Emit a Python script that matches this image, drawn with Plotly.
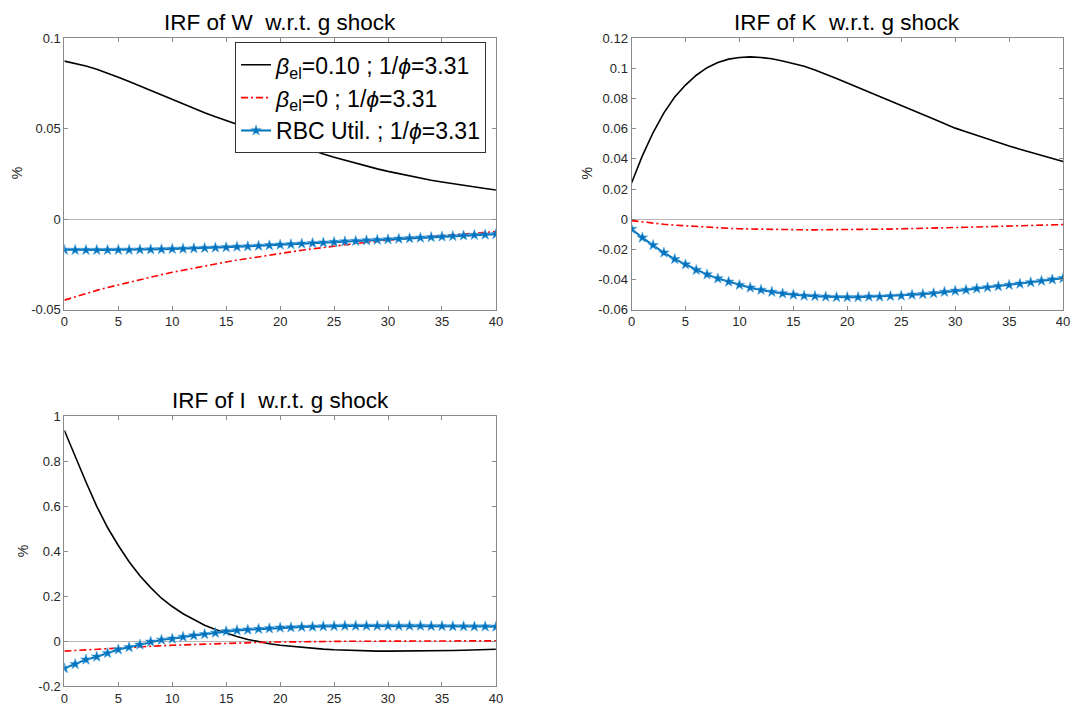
import plotly.graph_objects as go

periods = list(range(41))

# IRF of W
w_beta010 = [0.0874, 0.0862, 0.0847, 0.0829, 0.0808, 0.0785, 0.0761, 0.0736, 0.0711, 0.0686,
             0.0661, 0.0637, 0.0613, 0.0589, 0.0566, 0.0545, 0.0524, 0.0503, 0.0482, 0.0462,
             0.0440, 0.0420, 0.0400, 0.0380, 0.0360, 0.0342, 0.0325, 0.0309, 0.0293, 0.0278,
             0.0264, 0.0251, 0.0238, 0.0226, 0.0215, 0.0205, 0.0195, 0.0186, 0.0177, 0.0169, 0.0161]
w_beta0 = [-0.0448, -0.0429, -0.0411, -0.0394, -0.0378, -0.0363, -0.0348, -0.0334, -0.0320, -0.0307,
           -0.0294, -0.0282, -0.0270, -0.0259, -0.0248, -0.0237, -0.0227, -0.0217, -0.0207, -0.0198,
           -0.0189, -0.0181, -0.0172, -0.0164, -0.0157, -0.0149, -0.0142, -0.0135, -0.0129, -0.0122,
           -0.0116, -0.0111, -0.0105, -0.0100, -0.0095, -0.0090, -0.0085, -0.0081, -0.0077, -0.0073, -0.0069]
w_rbc = [-0.0170, -0.0171, -0.0171, -0.0171, -0.0171, -0.0170, -0.0170, -0.0169, -0.0168, -0.0167,
         -0.0165, -0.0164, -0.0162, -0.0160, -0.0158, -0.0156, -0.0153, -0.0151, -0.0148, -0.0145,
         -0.0142, -0.0139, -0.0136, -0.0133, -0.0130, -0.0127, -0.0124, -0.0121, -0.0118, -0.0115,
         -0.0112, -0.0109, -0.0106, -0.0103, -0.0100, -0.0097, -0.0094, -0.0091, -0.0088, -0.0086, -0.0083]

# IRF of K
k_beta010 = [0.0240, 0.0420, 0.0575, 0.0705, 0.0810, 0.0890, 0.0955, 0.1005, 0.1040, 0.1062,
             0.1073, 0.1077, 0.1073, 0.1064, 0.1050, 0.1035, 0.1015, 0.0990, 0.0963, 0.0934,
             0.0903, 0.0874, 0.0845, 0.0815, 0.0785, 0.0756, 0.0725, 0.0695, 0.0665, 0.0634,
             0.0604, 0.0580, 0.0555, 0.0531, 0.0508, 0.0485, 0.0464, 0.0443, 0.0422, 0.0402, 0.0383]
k_beta0 = [-0.0010, -0.0019, -0.0027, -0.0034, -0.0040, -0.0045, -0.0050, -0.0054, -0.0058, -0.0061,
           -0.0064, -0.0066, -0.0068, -0.0069, -0.0070, -0.0071, -0.0071, -0.0071, -0.0071, -0.0071,
           -0.0070, -0.0069, -0.0068, -0.0067, -0.0066, -0.0064, -0.0063, -0.0061, -0.0059, -0.0058,
           -0.0056, -0.0054, -0.0052, -0.0050, -0.0048, -0.0046, -0.0044, -0.0042, -0.0040, -0.0038, -0.0036]
k_rbc = [-0.0065, -0.0123, -0.0173, -0.0223, -0.0266, -0.0301, -0.0338, -0.0368, -0.0394, -0.0416,
         -0.0437, -0.0455, -0.0470, -0.0483, -0.0494, -0.0502, -0.0509, -0.0511, -0.0515, -0.0518,
         -0.0518, -0.0518, -0.0515, -0.0515, -0.0511, -0.0509, -0.0502, -0.0498, -0.0492, -0.0483,
         -0.0476, -0.0470, -0.0461, -0.0453, -0.0446, -0.0437, -0.0429, -0.0420, -0.0410, -0.0401, -0.0392]

# IRF of I
i_beta010 = [0.937, 0.820, 0.708, 0.600, 0.506, 0.426, 0.354, 0.292, 0.239, 0.192,
             0.155, 0.123, 0.097, 0.072, 0.053, 0.036, 0.022, 0.009, -0.001, -0.010,
             -0.017, -0.022, -0.027, -0.031, -0.034, -0.037, -0.039, -0.041, -0.042, -0.043,
             -0.043, -0.043, -0.043, -0.042, -0.042, -0.041, -0.040, -0.039, -0.038, -0.037, -0.035]
i_beta0 = [-0.043, -0.040, -0.037, -0.034, -0.031, -0.029, -0.026, -0.024, -0.021, -0.019,
           -0.017, -0.015, -0.013, -0.011, -0.009, -0.008, -0.006, -0.005, -0.004, -0.003,
           -0.002, -0.0015, -0.001, -0.0005, 0.0, 0.0003, 0.0006, 0.0009, 0.0011, 0.0013,
           0.0015, 0.0017, 0.0019, 0.0020, 0.0022, 0.0023, 0.0024, 0.0025, 0.0026, 0.0027, 0.0028]
i_rbc = [-0.119, -0.101, -0.081, -0.068, -0.052, -0.036, -0.026, -0.0145, -0.0015, 0.007,
         0.012, 0.020, 0.026, 0.032, 0.038, 0.045, 0.049, 0.052, 0.055, 0.058,
         0.061, 0.062, 0.064, 0.065, 0.067, 0.068, 0.069, 0.069, 0.069, 0.069,
         0.069, 0.069, 0.069, 0.069, 0.068, 0.068, 0.067, 0.067, 0.066, 0.066, 0.065]

titles = ["IRF of W  w.r.t. g shock", "IRF of K  w.r.t. g shock", "IRF of I  w.r.t. g shock"]
series_names = ["<i>β</i><sub>el</sub>=0.10 ; 1/<i>ϕ</i>=3.31",
                "<i>β</i><sub>el</sub>=0 ; 1/<i>ϕ</i>=3.31",
                "RBC Util. ; 1/<i>ϕ</i>=3.31"]
y_label = "%"

w_ticks = [-0.05, 0, 0.05, 0.1]
w_ticklabels = ["-0.05", "0", "0.05", "0.1"]
k_ticks = [-0.06, -0.04, -0.02, 0, 0.02, 0.04, 0.06, 0.08, 0.1, 0.12]
k_ticklabels = ["-0.06", "-0.04", "-0.02", "0", "0.02", "0.04", "0.06", "0.08", "0.1", "0.12"]
i_ticks = [-0.2, 0, 0.2, 0.4, 0.6, 0.8, 1]
i_ticklabels = ["-0.2", "0", "0.2", "0.4", "0.6", "0.8", "1"]
x_ticks = [0, 5, 10, 15, 20, 25, 30, 35, 40]

BLACK = "#000000"
RED = "#FF0000"
BLUE = "#0072BD"
FONT = "Liberation Sans, Arial, Helvetica, sans-serif"

fig = go.Figure()

panels = [
    ("x", "y", w_beta010, w_beta0, w_rbc),
    ("x2", "y2", k_beta010, k_beta0, k_rbc),
    ("x3", "y3", i_beta010, i_beta0, i_rbc),
]
for idx, (xa, ya, s1, s2, s3) in enumerate(panels):
    show = idx == 0
    fig.add_trace(go.Scatter(x=periods, y=s1, mode="lines", name=series_names[0],
                             line=dict(color=BLACK, width=1.6), xaxis=xa, yaxis=ya,
                             showlegend=show, legendrank=1))
    fig.add_trace(go.Scatter(x=periods, y=s2, mode="lines", name=series_names[1],
                             line=dict(color=RED, width=1.6, dash="7px,3px,2px,3px"),
                             xaxis=xa, yaxis=ya, showlegend=show, legendrank=2))
    fig.add_trace(go.Scatter(x=periods, y=s3, mode="lines+markers", name=series_names[2],
                             line=dict(color=BLUE, width=2),
                             marker=dict(symbol="star", size=8, color=BLUE,
                                         line=dict(color="#4DA3DC", width=0.6)),
                             xaxis=xa, yaxis=ya, showlegend=show, legendrank=3))

x_dom_left = [61 / 1079, 497 / 1079]
x_dom_right = [634 / 1079, 1070 / 1079]
y_dom_top = [1 - 309 / 717, 1 - 32 / 717]
y_dom_bot = [1 - 694 / 717, 1 - 418 / 717]

AXIS_COLOR = "#8a8a8a"
TICK_FONT = dict(family=FONT, size=13, color="#262626")


def xaxis(domain, anchor):
    return dict(domain=domain, anchor=anchor, range=[0, 40], tickvals=x_ticks,
                ticks="inside", ticklen=4, tickcolor=AXIS_COLOR, showline=True,
                linecolor=AXIS_COLOR, linewidth=1, mirror="ticks", showgrid=False,
                zeroline=False, tickfont=TICK_FONT, fixedrange=True)


def yaxis(domain, anchor, rng, tv, tt):
    return dict(domain=domain, anchor=anchor, range=rng, tickvals=tv, ticktext=tt,
                ticks="inside", ticklen=4, tickcolor=AXIS_COLOR, showline=True,
                linecolor=AXIS_COLOR, linewidth=1, mirror="ticks", showgrid=False,
                zeroline=True, zerolinecolor="#b8b8b8", zerolinewidth=1,
                tickfont=TICK_FONT, fixedrange=True)


fig.update_layout(
    width=1079, height=717,
    margin=dict(l=0, r=0, t=0, b=0),
    paper_bgcolor="white", plot_bgcolor="white",
    font=dict(family=FONT, color="#000000"),
    xaxis=xaxis(x_dom_left, "y"),
    yaxis=yaxis(y_dom_top, "x", [-0.05, 0.1], w_ticks, w_ticklabels),
    xaxis2=xaxis(x_dom_right, "y2"),
    yaxis2=yaxis(y_dom_top, "x2", [-0.06, 0.12], k_ticks, k_ticklabels),
    xaxis3=xaxis(x_dom_left, "y3"),
    yaxis3=yaxis(y_dom_bot, "x3", [-0.2, 1], i_ticks, i_ticklabels),
    legend=dict(x=487 / 1079, y=1 - 36 / 717, xanchor="right", yanchor="top",
                bgcolor="white", bordercolor="#333333", borderwidth=1,
                font=dict(family=FONT, size=23, color="#000000"),
                itemwidth=30, tracegroupgap=0),
    showlegend=True,
)

title_pos = [((x_dom_left[0] + x_dom_left[1]) / 2, 1 - 16 / 717),
             ((x_dom_right[0] + x_dom_right[1]) / 2, 1 - 16 / 717),
             ((x_dom_left[0] + x_dom_left[1]) / 2, 1 - 402 / 717)]
for t, (tx, ty) in zip(titles, title_pos):
    fig.add_annotation(text=t, x=tx, y=ty, xref="paper", yref="paper",
                       xanchor="center", yanchor="middle", showarrow=False,
                       font=dict(family=FONT, size=22.5, color="#000000"))

ylabel_pos = [(14 / 1079, 1 - 170 / 717), (589 / 1079, 1 - 170 / 717), (20 / 1079, 1 - 556 / 717)]
for lx, ly in ylabel_pos:
    fig.add_annotation(text=y_label, x=lx, y=ly, xref="paper", yref="paper",
                       xanchor="center", yanchor="middle", showarrow=False, textangle=-90,
                       font=dict(family=FONT, size=14, color="#262626"))

fig.write_html("out.html")
